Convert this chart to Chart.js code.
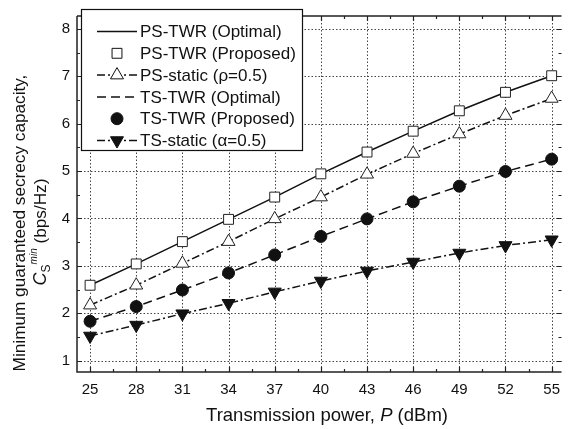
<!DOCTYPE html>
<html>
<head>
<meta charset="utf-8">
<script src="https://cdn.jsdelivr.net/npm/chart.js@4.4.0/dist/chart.umd.min.js"></script>
<style>
  html, body { margin: 0; padding: 0; background: #fff; }
  #wrap { width: 570px; height: 429px; position: relative; }
</style>
</head>
<body>
<div id="wrap"><canvas id="chart"></canvas></div>
<script>
// transmission power (dBm)
const powerDbm = [25, 28, 31, 34, 37, 40, 43, 46, 49, 52, 55];

// minimum guaranteed secrecy capacity (bps/Hz)
const psTwrOptimal  = [2.59, 3.04, 3.51, 3.98, 4.45, 4.94, 5.40, 5.84, 6.27, 6.66, 7.01];
const psTwrProposed = [2.59, 3.04, 3.51, 3.98, 4.45, 4.94, 5.40, 5.84, 6.27, 6.66, 7.01];
const psStatic      = [2.17, 2.59, 3.05, 3.51, 3.99, 4.45, 4.93, 5.37, 5.78, 6.17, 6.53];
const tsTwrOptimal  = [1.83, 2.14, 2.49, 2.85, 3.23, 3.62, 3.99, 4.35, 4.68, 4.99, 5.25];
const tsTwrProposed = [1.83, 2.14, 2.49, 2.85, 3.23, 3.62, 3.99, 4.35, 4.68, 4.99, 5.25];
const tsStatic      = [1.52, 1.75, 1.99, 2.21, 2.45, 2.68, 2.89, 3.08, 3.27, 3.43, 3.55];

const xTicks = [25, 28, 31, 34, 37, 40, 43, 46, 49, 52, 55];
const yTicks = [1, 2, 3, 4, 5, 6, 7, 8];

const FONT = '"Liberation Sans", Arial, sans-serif';

function pts(ys) {
  return powerDbm.map((x, i) => ({x: x, y: ys[i]}));
}

// frame, inward ticks (major + minor) and dotted grid
const framePlugin = {
  id: 'frame',
  beforeDatasetsDraw(chart) {
    const {ctx, chartArea: a, scales: {x, y}} = chart;
    ctx.save();
    ctx.strokeStyle = '#444';
    ctx.lineWidth = 1;
    ctx.setLineDash([1.5, 2]);
    xTicks.forEach(v => {
      const px = Math.round(x.getPixelForValue(v)) + 0.5;
      ctx.beginPath(); ctx.moveTo(px, a.top); ctx.lineTo(px, a.bottom); ctx.stroke();
    });
    yTicks.forEach(v => {
      const py = Math.round(y.getPixelForValue(v)) + 0.5;
      ctx.beginPath(); ctx.moveTo(a.left, py); ctx.lineTo(a.right, py); ctx.stroke();
    });
    ctx.setLineDash([]);
    ctx.strokeStyle = '#222';
    ctx.lineWidth = 1.5;
    ctx.beginPath();
    ctx.moveTo(a.left, a.top); ctx.lineTo(a.right, a.top);
    ctx.moveTo(a.left, a.top); ctx.lineTo(a.left, a.bottom);
    ctx.lineTo(a.right, a.bottom);
    ctx.stroke();
    ctx.lineWidth = 1.2;
    for (let v = 23.5; v <= 56; v += 1.5) {
      const px = Math.round(x.getPixelForValue(v)) + 0.5;
      if (px < a.left + 2 || px > a.right - 1) continue;
      const len = (v - 25) % 3 === 0 ? 5 : 3;
      ctx.beginPath();
      ctx.moveTo(px, a.bottom); ctx.lineTo(px, a.bottom - len);
      ctx.moveTo(px, a.top); ctx.lineTo(px, a.top + len);
      ctx.stroke();
    }
    for (let v = 1; v <= 8; v += 0.5) {
      const py = Math.round(y.getPixelForValue(v)) + 0.5;
      const len = v % 1 === 0 ? 5 : 3;
      ctx.beginPath();
      ctx.moveTo(a.left, py); ctx.lineTo(a.left + len, py);
      ctx.moveTo(a.right, py); ctx.lineTo(a.right - len, py);
      ctx.stroke();
    }
    ctx.restore();
  }
};

// draw a run of text pieces with mixed styles, centred on cx
function drawRuns(ctx, runs, cx, cy) {
  let total = 0;
  runs.forEach(r => { ctx.font = r.font; total += ctx.measureText(r.text).width; });
  let xPos = cx - total / 2;
  runs.forEach(r => {
    ctx.font = r.font;
    ctx.fillText(r.text, xPos, cy + (r.dy || 0));
    xPos += ctx.measureText(r.text).width;
  });
}

const titlePlugin = {
  id: 'titles',
  afterDraw(chart) {
    const ctx = chart.ctx;
    ctx.save();
    ctx.fillStyle = '#111';
    ctx.textBaseline = 'alphabetic';
    drawRuns(ctx, [
      {text: 'Transmission power, ', font: '18.5px ' + FONT},
      {text: 'P', font: 'italic 18.5px ' + FONT},
      {text: ' (dBm)', font: '18.5px ' + FONT}
    ], 327, 421);
    ctx.save();
    ctx.translate(25, 223);
    ctx.rotate(-Math.PI / 2);
    drawRuns(ctx, [{text: 'Minimum guaranteed secrecy capacity,', font: '17.2px ' + FONT}], 0, 0);
    ctx.restore();
    ctx.save();
    ctx.translate(46, 232);
    ctx.rotate(-Math.PI / 2);
    drawRuns(ctx, [
      {text: 'C', font: 'italic 18px ' + FONT},
      {text: 'S', font: '12px ' + FONT, dy: 4},
      {text: 'min', font: 'italic 10px ' + FONT, dy: -9},
      {text: ' (bps/Hz)', font: '17.2px ' + FONT}
    ], 0, 0);
    ctx.restore();
    ctx.restore();
  }
};

function drawMarker(ctx, style, x, y, r, fill, rot) {
  ctx.beginPath();
  if (style === 'rect') {
    const s = r / Math.SQRT2;
    ctx.rect(x - s, y - s, 2 * s, 2 * s);
  } else if (style === 'circle') {
    ctx.arc(x, y, r, 0, Math.PI * 2);
  } else if (style === 'triangle') {
    const d = rot ? -1 : 1;
    ctx.moveTo(x, y - d * r);
    ctx.lineTo(x + r * 0.866, y + d * r / 2);
    ctx.lineTo(x - r * 0.866, y + d * r / 2);
    ctx.closePath();
  }
  ctx.fillStyle = fill;
  ctx.fill();
  ctx.stroke();
}

const legendPlugin = {
  id: 'boxLegend',
  afterDatasetsDraw(chart) {
    const ctx = chart.ctx;
    const left = 81, top = 9, right = 302, bottom = 150;
    ctx.save();
    ctx.fillStyle = '#fff';
    ctx.fillRect(left, top, right - left, bottom - top);
    ctx.strokeStyle = '#111';
    ctx.lineWidth = 1.2;
    ctx.strokeRect(left + 0.5, top + 0.5, right - left, bottom - top);
    chart.data.datasets.forEach((ds, i) => {
      const cy = 31.5 + i * 21.8;
      ctx.strokeStyle = '#111';
      if (ds.showLine !== false) {
        ctx.lineWidth = ds.borderWidth;
        ctx.setLineDash(ds.borderDash || []);
        ctx.beginPath(); ctx.moveTo(97, cy); ctx.lineTo(137, cy); ctx.stroke();
        ctx.setLineDash([]);
      }
      if (ds.pointRadius > 0) {
        ctx.lineWidth = 1;
        drawMarker(ctx, ds.pointStyle, 117, cy, ds.pointRadius, ds.pointBackgroundColor, ds.pointRotation);
      }
      ctx.fillStyle = '#111';
      ctx.font = '17px ' + FONT;
      ctx.textBaseline = 'middle';
      ctx.fillText(ds.label, 140, cy + 1);
    });
    ctx.restore();
  }
};

const datasets = [
  {label: 'PS-TWR (Optimal)', data: pts(psTwrOptimal), borderColor: '#111', borderWidth: 1.5,
    pointRadius: 0, order: 2},
  {label: 'PS-TWR (Proposed)', data: pts(psTwrProposed), showLine: false, pointStyle: 'rect',
    pointRadius: 7, pointBackgroundColor: '#fff', pointBorderColor: '#222', pointBorderWidth: 1, order: 0},
  {label: 'PS-static (\u03C1=0.5)', data: pts(psStatic), borderColor: '#111', borderWidth: 1.5,
    borderDash: [8, 3, 2, 3], pointStyle: 'triangle', pointRadius: 7.5, pointBackgroundColor: '#fff',
    pointBorderColor: '#222', pointBorderWidth: 1, order: 1},
  {label: 'TS-TWR (Optimal)', data: pts(tsTwrOptimal), borderColor: '#111', borderWidth: 1.5,
    borderDash: [9, 5], pointRadius: 0, order: 2},
  {label: 'TS-TWR (Proposed)', data: pts(tsTwrProposed), showLine: false, pointStyle: 'circle',
    pointRadius: 6, pointBackgroundColor: '#111', pointBorderColor: '#111', pointBorderWidth: 1, order: 0},
  {label: 'TS-static (\u03B1=0.5)', data: pts(tsStatic), borderColor: '#111', borderWidth: 1.5,
    borderDash: [8, 3, 2, 3], pointStyle: 'triangle', pointRotation: 180, pointRadius: 7.5,
    pointBackgroundColor: '#111', pointBorderColor: '#111', pointBorderWidth: 1, order: 1}
];

new Chart(document.getElementById('chart'), {
  type: 'line',
  data: {datasets: datasets},
  options: {
    responsive: true,
    maintainAspectRatio: false,
    animation: false,
    layout: {padding: {top: 5, right: 0, left: 0, bottom: 0}},
    plugins: {legend: {display: false}, tooltip: {enabled: false}},
    elements: {line: {tension: 0, fill: false}},
    scales: {
      x: {
        type: 'linear', min: 24.15, max: 55.64,
        afterBuildTicks: s => { s.ticks = xTicks.map(v => ({value: v})); },
        afterFit: s => { s.height = 57; },
        grid: {display: false, drawTicks: false},
        border: {display: false},
        ticks: {color: '#111', font: {family: FONT, size: 15}, padding: 9, maxRotation: 0}
      },
      y: {
        type: 'linear', min: 0.76, max: 8.27,
        afterBuildTicks: s => { s.ticks = yTicks.map(v => ({value: v})); },
        afterFit: s => { s.width = 77; },
        grid: {display: false, drawTicks: false},
        border: {display: false},
        ticks: {color: '#111', font: {family: FONT, size: 15}, padding: 7}
      }
    }
  },
  plugins: [framePlugin, legendPlugin, titlePlugin]
});
</script>
</body>
</html>
